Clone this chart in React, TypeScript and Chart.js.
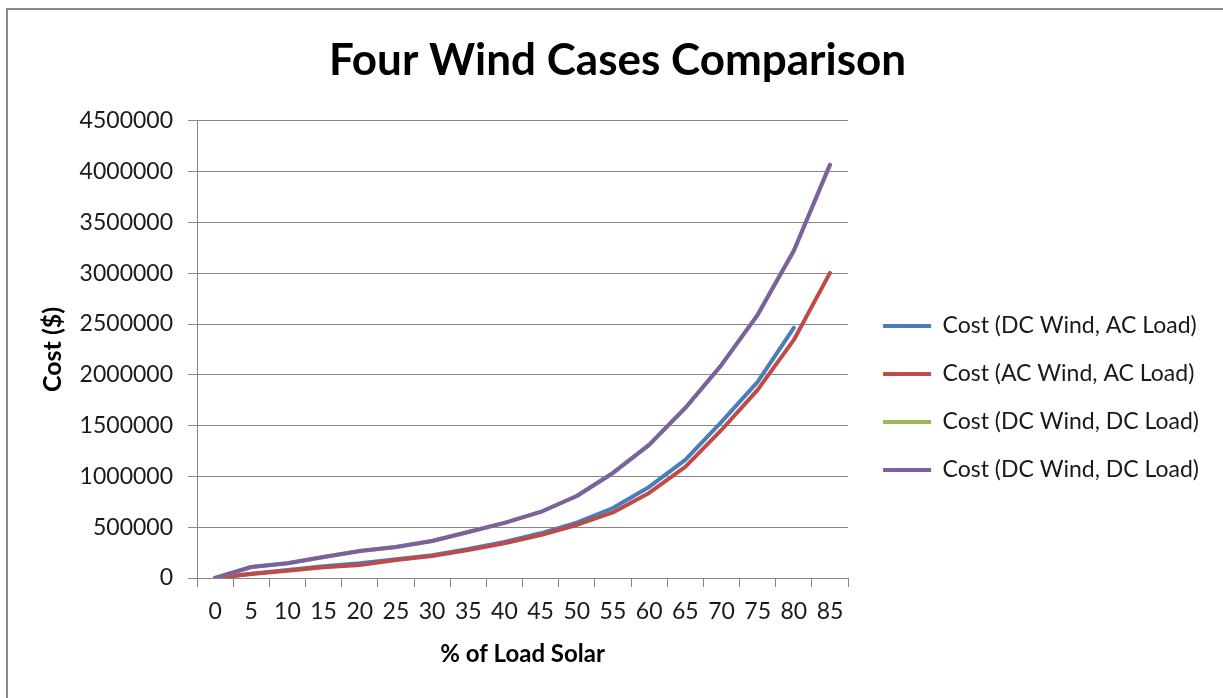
import React, { useEffect, useRef } from "react";
import { Chart, registerables } from "chart.js";

Chart.register(...registerables);

const categories = ["0", "5", "10", "15", "20", "25", "30", "35", "40", "45", "50", "55", "60", "65", "70", "75", "80", "85"];

const dcWindAcLoad = [0, 42000, 80000, 115000, 145000, 185000, 225000, 285000, 355000, 440000, 545000, 689000, 896000, 1162000, 1536000, 1930000, 2462000, null];
const acWindAcLoad = [0, 39000, 72000, 105000, 128000, 177000, 217000, 276000, 342000, 423000, 522000, 645000, 837000, 1093000, 1457000, 1851000, 2343000, 3003000];
const dcWindDcLoadA = [0, 108000, 145000, 207000, 266000, 305000, 364000, 453000, 542000, 650000, 807000, 1034000, 1310000, 1674000, 2097000, 2590000, 3220000, 4067000];
const dcWindDcLoadB = [0, 108000, 145000, 207000, 266000, 305000, 364000, 453000, 542000, 650000, 807000, 1034000, 1310000, 1674000, 2097000, 2590000, 3220000, 4067000];

const seriesNames = [
  "Cost (DC Wind, AC Load)",
  "Cost (AC Wind, AC Load)",
  "Cost (DC Wind, DC Load)",
  "Cost (DC Wind, DC Load)",
];
const seriesColors = ["#4A7EBB", "#BE4B48", "#98B954", "#7D60A0"];

const yMin = 0;
const yMax = 4500000;
const yStep = 500000;

const titleText = "Four Wind Cases Comparison";
const xTitle = "% of Load Solar";
const yTitle = "Cost ($)";

const FONT = "Lato, 'Open Sans', sans-serif";
const GRID = "#878787";
const TEXT = "#1a1a1a";

export default function App() {
  const ref = useRef<HTMLCanvasElement | null>(null);

  useEffect(() => {
    if (!ref.current) return;
    const values = [dcWindAcLoad, acWindAcLoad, dcWindDcLoadA, dcWindDcLoadB];
    const chart = new Chart(ref.current, {
      type: "line",
      data: {
        labels: categories,
        datasets: values.map((v, i) => ({
          label: seriesNames[i],
          data: v,
          borderColor: seriesColors[i],
          backgroundColor: seriesColors[i],
          borderWidth: 4,
          borderCapStyle: "round",
          borderJoinStyle: "round",
          pointRadius: 0,
          pointHoverRadius: 0,
          pointStyle: "line",
          tension: 0,
          fill: false,
          spanGaps: false,
          order: 3 - i,
          yAxisID: "y",
        })),
      },
      options: {
        responsive: false,
        animation: false,
        layout: { padding: { top: 8, right: 14, bottom: 26, left: 26 } },
        plugins: {
          tooltip: { enabled: false },
          title: {
            display: true,
            text: titleText,
            color: "#000",
            font: { family: FONT, size: 44, weight: "bold" },
            padding: { top: 26, bottom: 34 },
          },
          legend: {
            display: true,
            position: "right",
            align: "center",
            maxWidth: 500,
            title: {
              display: true,
              text: " ",
              font: { family: FONT, size: 10 },
              padding: { top: 104, bottom: 0 },
            },
            labels: {
              sort: (a: any, b: any) => a.datasetIndex - b.datasetIndex,
              usePointStyle: true,
              pointStyleWidth: 48,
              boxHeight: 23,
              padding: 25,
              color: TEXT,
              font: { family: FONT, size: 23 },
            },
          },
        },
        scales: {
          x: {
            type: "category",
            offset: true,
            afterFit: (s: any) => {
              s.height = 94;
            },
            grid: {
              display: true,
              drawOnChartArea: false,
              drawTicks: true,
              tickLength: 9,
              color: GRID,
              offset: true,
            },
            border: { display: true, color: GRID, width: 1 },
            ticks: {
              color: TEXT,
              font: { family: FONT, size: 23 },
              padding: 11,
              maxRotation: 0,
              autoSkip: false,
            },
            title: {
              display: true,
              text: xTitle,
              color: "#000",
              font: { family: FONT, size: 24, weight: "bold" },
              padding: { top: 0, bottom: 3 },
            },
          },
          y: {
            position: "left",
            min: yMin,
            max: yMax,
            afterFit: (s: any) => {
              s.width = 171;
            },
            grid: {
              display: true,
              drawOnChartArea: true,
              drawTicks: true,
              tickLength: 9,
              color: GRID,
            },
            border: { display: true, color: GRID, width: 1 },
            ticks: {
              stepSize: yStep,
              color: TEXT,
              font: { family: FONT, size: 23 },
              padding: 15,
              callback: (v: any) => String(v),
            },
            title: {
              display: true,
              text: yTitle,
              color: "#000",
              font: { family: FONT, size: 25, weight: "bold" },
              padding: { top: 12, bottom: 0 },
            },
          },
          gap: {
            position: "right",
            display: true,
            afterFit: (s: any) => {
              s.width = 10;
            },
            grid: { display: false, drawOnChartArea: false, drawTicks: false },
            border: { display: false },
            ticks: { display: false },
          },
        },
      },
    } as any);
    return () => chart.destroy();
  }, []);

  return (
    <div style={{ position: "fixed", left: 0, top: 0, width: 1223, height: 698, background: "#fff" }}>
      <canvas ref={ref} width={1223} height={698} style={{ position: "absolute", left: 0, top: 0 }} />
      <div
        style={{
          position: "absolute",
          left: 6,
          top: 8,
          width: 1217,
          height: 690,
          borderTop: "2px solid #8a8a8a",
          borderLeft: "2px solid #8a8a8a",
          boxSizing: "border-box",
          pointerEvents: "none",
        }}
      />
    </div>
  );
}
